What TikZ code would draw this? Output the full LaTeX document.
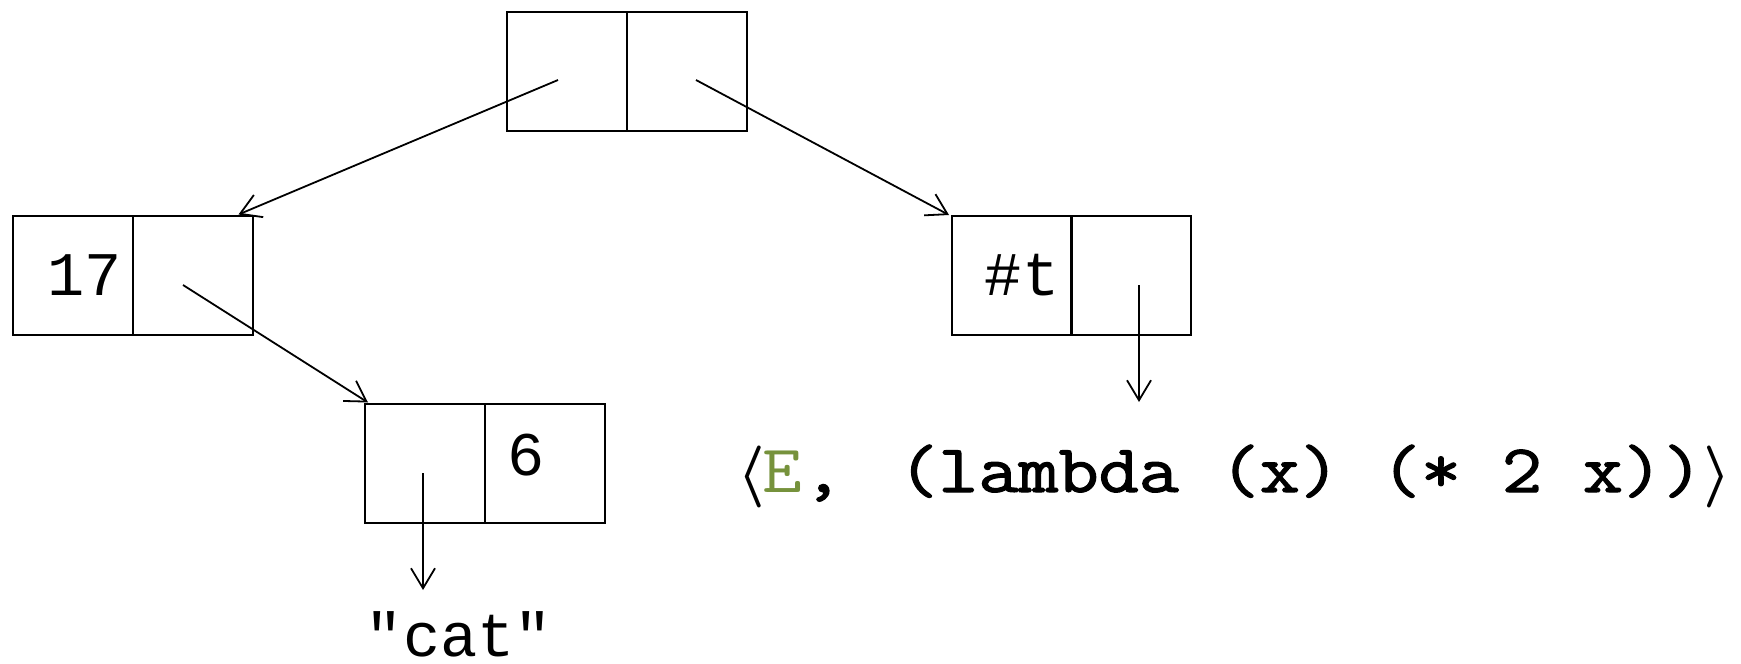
\documentclass[tikz,border=0pt]{standalone}
\usepackage{fontspec}
\usepackage{graphicx}
\usetikzlibrary{arrows.meta,calc}
\newfontfamily\labfont{Liberation Mono}
\newfontfamily\lamfont[FakeBold=1.6]{Latin Modern Mono}
\newfontfamily\lamEfont{Latin Modern Mono}
\newcommand\msp{\hspace{0.525em}}
\definecolor{egreen}{RGB}{118,146,60}
\tikzset{
  cell/.style={draw, line width=2pt, minimum width=120pt, minimum height=119pt, inner sep=0pt},
  ptr/.style={line width=1.8pt, -{Straight Barb[length=20pt,width=24pt]}},
  lab/.style={font=\labfont\fontsize{62}{70}\selectfont, inner sep=0pt, anchor=base},
  lam/.style={font=\lamfont\fontsize{68}{78}\selectfont, inner sep=0pt},
  brk/.style={inner sep=0pt, anchor=base},
}
\begin{document}
\begin{tikzpicture}[x=1pt,y=-1pt]
\useasboundingbox (0,0) rectangle (1741,664);
% cons cells
\node[cell] (topA) at (567,71) {};
\node[cell] (topD) at (687,71) {};
\node[cell] (aA) at (73,275) {};
\node[cell] (aD) at (192.5,275) {};
\node[cell] (bA) at (1012,275.5) {};
\node[cell] (bD) at (1131,275.5) {};
\node[cell] (cA) at (425,463) {};
\node[cell] (cD) at (545,463) {};
% labels
\node[lab] (n17) at (85,295) {17};
\node[lab] (nt) at (1022,295) {\#t};
\node[lab] (n6) at (526,475) {6};
\node[lab] (ncat) at (459,656) {"cat"};
% closure value
\node[brk] (lang) at (751,492) {\scalebox{6.2}{\boldmath$\langle$}};
\node[lam, anchor=base, text=egreen] (nE) at (782.5,492) {\scalebox{1.134}[1]{\lamEfont E}};
\node[lam, anchor=base] (ncomma) at (823,492) {\scalebox{1.134}[1]{,}};
\node[lam, anchor=base west] (nlam) at (898,492) {\resizebox{805pt}{\height}{(lambda\msp(x)\msp(*\msp2\msp x))}};
\node[brk] (rang) at (1717,492) {\scalebox{6.2}{\boldmath$\rangle$}};
% pointer coordinates
\coordinate (s1) at ($(topA)+(-9,9)$);
\coordinate (e1) at ($(aD.north east)+(-15,0)$);
\coordinate (s2) at ($(topD)+(9,9)$);
\coordinate (e2) at ($(bA.north west)+(-2,0)$);
\coordinate (s3) at ($(aD)+(-9.5,10)$);
\coordinate (e3) at ($(cA.north west)+(4,0)$);
\coordinate (s4) at ($(bD)+(8,9.5)$);
\coordinate (e4) at (1139,402);
\coordinate (s5) at ($(cA)+(-2,10)$);
\coordinate (e5) at (423,590);
\draw[ptr] (s1) -- (e1);
\draw[ptr] (s2) -- (e2);
\draw[ptr] (s3) -- (e3);
\draw[ptr] (s4) -- (e4);
\draw[ptr] (s5) -- (e5);
\end{tikzpicture}
\end{document}
